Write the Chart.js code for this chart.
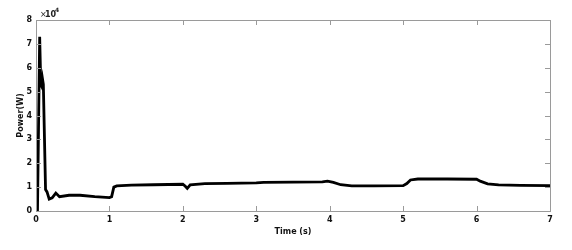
<!DOCTYPE html>
<html>
<head>
<meta charset="utf-8">
<script src="https://cdn.jsdelivr.net/npm/chart.js@4.4.1/dist/chart.umd.min.js"></script>
<style>
  html, body { margin: 0; padding: 0; background: #fff; }
  #wrap { width: 572px; height: 250px; }
</style>
</head>
<body>
<div id="wrap"><canvas id="chart"></canvas></div>
<script>
// Time axis (s) and power (W)
const timeS = [0, 0.02, 0.05, 0.065, 0.08, 0.09, 0.1, 0.13, 0.15, 0.18, 0.22, 0.27, 0.32, 0.45, 0.6, 0.8,
  1.0, 1.03, 1.06, 1.1, 1.3, 1.6, 2.0, 2.03, 2.06, 2.1, 2.3, 2.6, 3.0, 3.1, 3.5, 3.9, 3.97,
  4.05, 4.15, 4.3, 4.6, 5.0, 5.05, 5.1, 5.2, 5.6, 6.0, 6.05, 6.15, 6.3, 6.6, 7.0];
const powerW = [0, 0, 73000, 53000, 52000, 55000, 53000, 9000, 8000, 5000, 5500, 7500, 6000, 6600, 6600, 6000,
  5600, 6000, 10000, 10500, 10800, 11000, 11200, 10500, 9500, 11000, 11500, 11600, 11800, 12000, 12100, 12200, 12500,
  12000, 11000, 10500, 10500, 10600, 11500, 13000, 13400, 13400, 13300, 12500, 11400, 10900, 10700, 10600];

const xTicks = [0, 1, 2, 3, 4, 5, 6, 7];
const yTicks = [0, 1, 2, 3, 4, 5, 6, 7, 8]; // x 10^4

const FONT = "'DejaVu Sans', sans-serif";
const AXIS = "#9a9a9a";

// box round the plot, inward ticks and the x10^4 multiplier
const boxPlugin = {
  id: "box",
  afterDraw(chart) {
    const { ctx, chartArea: a, scales } = chart;
    ctx.save();
    ctx.strokeStyle = AXIS;
    ctx.lineWidth = 1;
    ctx.strokeRect(a.left + 0.5, a.top + 0.5, a.right - a.left, a.bottom - a.top);
    ctx.beginPath();
    xTicks.slice(1, -1).forEach((t) => {
      const x = Math.round(scales.x.getPixelForValue(t)) + 0.5;
      ctx.moveTo(x, a.bottom); ctx.lineTo(x, a.bottom - 5);
      ctx.moveTo(x, a.top); ctx.lineTo(x, a.top + 5);
    });
    yTicks.slice(1, -1).forEach((t) => {
      const y = Math.round(scales.y.getPixelForValue(t * 1e4)) + 0.5;
      ctx.moveTo(a.left, y); ctx.lineTo(a.left + 5, y);
      ctx.moveTo(a.right, y); ctx.lineTo(a.right - 5, y);
    });
    ctx.stroke();

    ctx.fillStyle = "#222";
    ctx.textBaseline = "alphabetic";
    ctx.font = "8px " + FONT;
    ctx.fillText("×", a.left + 4, 17);
    ctx.font = "bold 8px " + FONT;
    ctx.fillText("10", a.left + 9, 17);
    ctx.font = "bold 6px " + FONT;
    ctx.fillText("4", a.left + 19, 12);
    ctx.restore();
  },
};

new Chart(document.getElementById("chart"), {
  type: "line",
  data: {
    datasets: [
      {
        data: timeS.map((t, i) => ({ x: t, y: powerW[i] })),
        borderColor: "#000",
        borderWidth: 2.8,
        pointRadius: 0,
        tension: 0,
        fill: false,
      },
    ],
  },
  options: {
    responsive: true,
    maintainAspectRatio: false,
    animation: false,
    layout: { padding: { top: 20, right: 22, left: 0, bottom: 0 } },
    plugins: { legend: { display: false }, tooltip: { enabled: false } },
    scales: {
      x: {
        type: "linear",
        min: 0,
        max: 7,
        afterFit: (s) => { s.height = 39; },
        afterBuildTicks: (s) => { s.ticks = xTicks.map((v) => ({ value: v })); },
        grid: { display: false, drawTicks: false },
        border: { display: false },
        ticks: { padding: 4, color: "#111", font: { family: FONT, size: 8, weight: "bold" } },
        title: {
          display: true,
          text: "Time (s)",
          color: "#111",
          padding: { top: 0, bottom: 13 },
          font: { family: FONT, size: 8, weight: "bold" },
        },
      },
      y: {
        min: 0,
        max: 80000,
        afterFit: (s) => { s.width = 36; },
        afterBuildTicks: (s) => { s.ticks = yTicks.map((v) => ({ value: v * 1e4 })); },
        grid: { display: false, drawTicks: false },
        border: { display: false },
        ticks: {
          padding: 4,
          color: "#111",
          font: { family: FONT, size: 8, weight: "bold" },
          callback: (v) => v / 1e4,
        },
        title: {
          display: true,
          text: "Power(W)",
          color: "#111",
          padding: { top: 16, bottom: 0 },
          font: { family: FONT, size: 8, weight: "bold" },
        },
      },
    },
  },
  plugins: [boxPlugin],
});
</script>
</body>
</html>
